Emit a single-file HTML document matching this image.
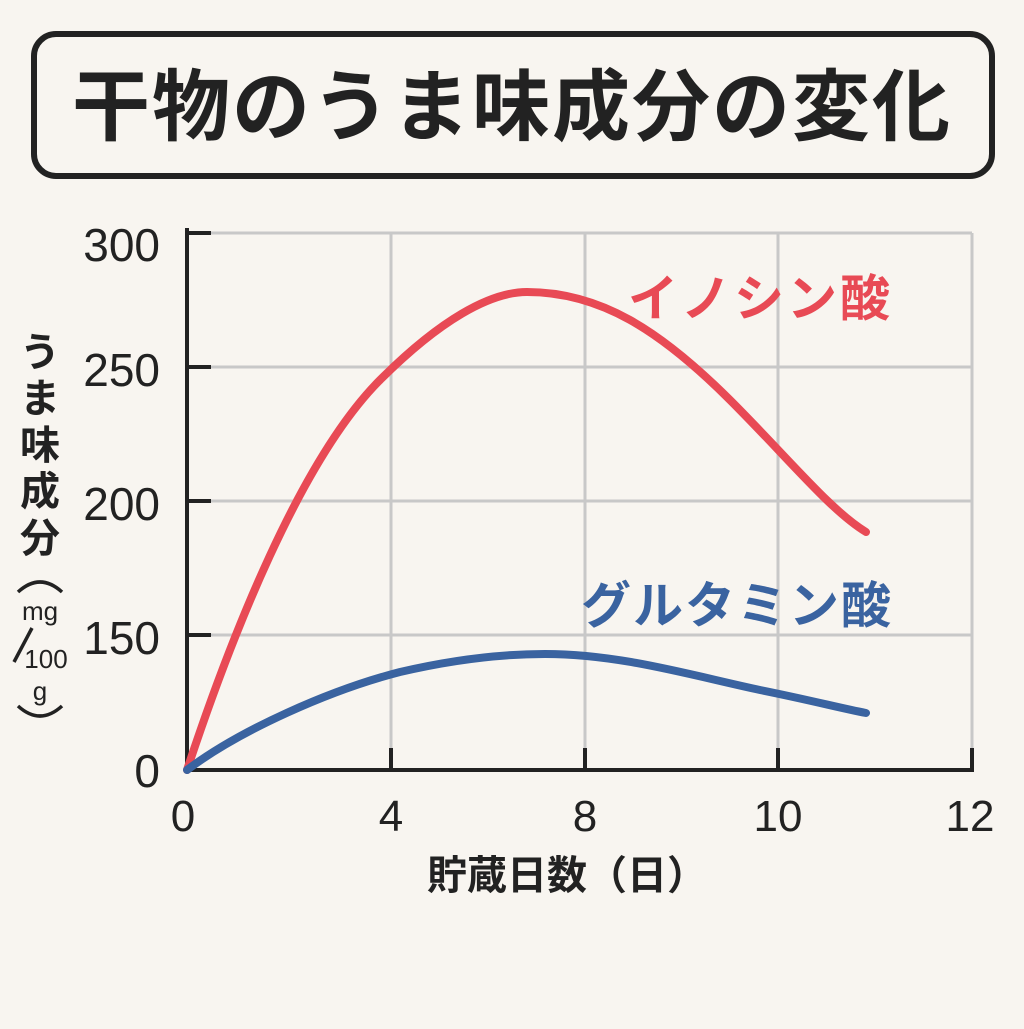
<!DOCTYPE html>
<html><head><meta charset="utf-8"><style>
html,body{margin:0;padding:0;background:#f8f5f0;}
body{width:1024px;height:1024px;overflow:hidden;}
</style></head><body>
<svg width="1024" height="1024" viewBox="0 0 1024 1024" xmlns="http://www.w3.org/2000/svg" style="font-family:'Liberation Sans','Noto Sans CJK JP',sans-serif">
<rect width="1024" height="1024" fill="#f8f5f0"/>
<rect x="34" y="34" width="958" height="142" rx="22" fill="#f8f5f0" stroke="#222" stroke-width="6"/>
<text x="512" y="134" text-anchor="middle" font-size="78" font-weight="bold" fill="#222" letter-spacing="2" font-family="'Noto Sans CJK JP',sans-serif">干物のうま味成分の変化</text>
<g stroke="#c8c8c8" stroke-width="3">
<line x1="187" y1="233" x2="972" y2="233"/>
<line x1="187" y1="367" x2="972" y2="367"/>
<line x1="187" y1="501" x2="972" y2="501"/>
<line x1="187" y1="635" x2="972" y2="635"/>
<line x1="391" y1="233" x2="391" y2="770"/>
<line x1="585" y1="233" x2="585" y2="770"/>
<line x1="778" y1="233" x2="778" y2="770"/>
<line x1="972" y1="233" x2="972" y2="770"/>
</g>
<g stroke="#222" stroke-width="4">
<line x1="187" y1="228" x2="187" y2="772"/>
<line x1="185" y1="770" x2="974" y2="770"/>
<line x1="187" y1="233" x2="211" y2="233"/>
<line x1="187" y1="367" x2="211" y2="367"/>
<line x1="187" y1="501" x2="211" y2="501"/>
<line x1="187" y1="635" x2="211" y2="635"/>
<line x1="391" y1="748" x2="391" y2="770"/>
<line x1="585" y1="748" x2="585" y2="770"/>
<line x1="778" y1="748" x2="778" y2="770"/>
<line x1="972" y1="748" x2="972" y2="770"/>
</g>
<g font-size="46" fill="#222" text-anchor="end">
<text x="160" y="261">300</text>
<text x="160" y="386">250</text>
<text x="160" y="520">200</text>
<text x="160" y="654">150</text>
<text x="160" y="787">0</text>
</g>
<g font-size="44" fill="#222" text-anchor="middle">
<text x="183" y="831">0</text>
<text x="391" y="831">4</text>
<text x="585" y="831">8</text>
<text x="778" y="831">10</text>
<text x="970" y="831">12</text>
</g>
<text x="567" y="889" text-anchor="middle" font-size="40" font-weight="bold" fill="#222" font-family="'Noto Sans CJK JP',sans-serif">貯蔵日数（日）</text>
<g font-size="40" font-weight="bold" fill="#222" text-anchor="middle" font-family="'Noto Sans CJK JP',sans-serif">
<text x="40" y="366">う</text>
<text x="40" y="412">ま</text>
<text x="40" y="459">味</text>
<text x="40" y="505">成</text>
<text x="40" y="552">分</text>
</g>
<g fill="none" stroke="#222" stroke-width="3.5">
<path d="M18 592 Q40 572 62 592"/>
<path d="M18 706 Q40 726 62 706"/>
<line x1="14" y1="662" x2="32" y2="628"/>
</g>
<g font-size="26" fill="#222" text-anchor="middle">
<text x="40" y="620">mg</text>
<text x="46" y="668">100</text>
<text x="40" y="700">g</text>
</g>
<path d="M187 770 C230 640 300 460 380 380 C440 320 490 292 527 292 C600 292 660 330 730 400 C790 460 830 510 866 532" fill="none" stroke="#e84a55" stroke-width="8" stroke-linecap="round"/>
<path d="M187 770 C240 730 330 690 400 672 C460 658 510 654 545 654 C620 654 690 675 760 690 C810 700 840 708 866 713" fill="none" stroke="#3a63a0" stroke-width="8" stroke-linecap="round"/>
<text x="893" y="316" text-anchor="end" font-size="50" font-weight="bold" fill="#e84a55" letter-spacing="3" font-family="'Noto Sans CJK JP',sans-serif">イノシン酸</text>
<text x="893" y="623" text-anchor="end" font-size="50" font-weight="bold" fill="#3a63a0" letter-spacing="2" font-family="'Noto Sans CJK JP',sans-serif">グルタミン酸</text>
</svg>
</body></html>
